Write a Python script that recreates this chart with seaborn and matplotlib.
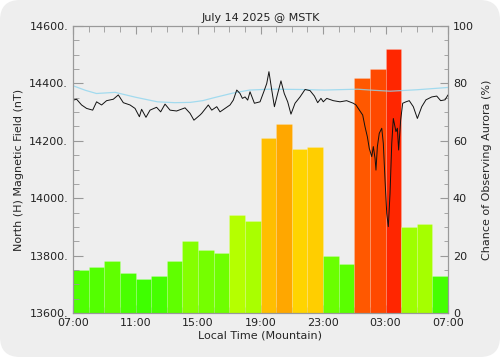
import numpy as np
import pandas as pd
import matplotlib
matplotlib.use("Agg")
import matplotlib.pyplot as plt
from matplotlib.patches import FancyBboxPatch
from matplotlib.colors import LinearSegmentedColormap
from matplotlib.ticker import MultipleLocator, FixedLocator, FuncFormatter
import seaborn as sns

# ---------------- data ----------------
title = "July 14 2025 @ MSTK"
tick_labels = ["07:00", "11:00", "15:00", "19:00", "23:00", "03:00", "07:00"]

# hourly aurora chance (%) starting 07:00 local
aurora_pct = [15, 16, 18, 14, 12, 13, 18, 25, 22, 21, 34, 32,
              61, 66, 57, 58, 20, 17, 82, 85, 92, 30, 31, 13]

# magnetometer H component (hours since 07:00, nT)
mag_t = [0.02, 0.23, 0.55, 0.87, 1.26, 1.51, 1.83, 2.15, 2.58, 2.90, 3.22, 3.65,
         3.97, 4.25, 4.39, 4.67, 4.93, 5.35, 5.61, 5.89, 6.21, 6.63, 7.17, 7.49,
         7.74, 8.13, 8.24, 8.66, 8.88, 9.20, 9.41, 9.73, 10.05, 10.26, 10.48, 10.69,
         10.84, 11.01, 11.18, 11.33, 11.61, 11.97, 12.25, 12.40, 12.54, 12.72, 12.89,
         13.10, 13.31, 13.52, 13.74, 13.95, 14.21, 14.53, 14.85, 15.17, 15.45, 15.66,
         15.87, 16.02, 16.24, 16.66, 17.09, 17.51, 17.94, 18.11, 18.33, 18.54, 18.69,
         18.84, 18.96, 19.12, 19.22, 19.33, 19.39, 19.48, 19.60, 19.76, 19.86, 19.97,
         20.08, 20.18, 20.29, 20.40, 20.50, 20.67, 20.76, 20.84, 20.97, 21.10, 21.31,
         21.52, 21.78, 22.04, 22.32, 22.59, 22.96, 23.28, 23.53, 23.81, 24.0]
mag_nt = [14342, 14345, 14325, 14313, 14307, 14336, 14325, 14340, 14345, 14360, 14333, 14325,
          14313, 14284, 14310, 14282, 14307, 14317, 14301, 14328, 14307, 14304, 14315, 14296,
          14272, 14290, 14296, 14325, 14307, 14319, 14301, 14313, 14325, 14342, 14377, 14365,
          14348, 14353, 14342, 14371, 14331, 14336, 14377, 14400, 14441, 14377, 14319,
          14365, 14409, 14365, 14336, 14293, 14331, 14353, 14379, 14375, 14356, 14333,
          14348, 14336, 14348, 14340, 14336, 14340, 14331, 14325, 14307, 14290, 14249,
          14214, 14174, 14145, 14180, 14139, 14098, 14180, 14226, 14244, 14191, 14063,
          13947, 13901, 14017, 14191, 14278, 14232, 14244, 14168, 14272, 14331, 14336,
          14340, 14319, 14278, 14319, 14343, 14353, 14356, 14340, 14343, 14360]

# quiet-day baseline (hours since 07:00, nT)
base_t = [0.0, 0.8, 1.5, 2.7, 4.0, 5.4, 6.5, 7.5, 8.3, 9.0, 10.2, 11.3, 12.6, 14.5, 16.1,
          18.2, 19.3, 20.3, 22.0, 24.0]
base_nt = [14392, 14376, 14365, 14369, 14352, 14336, 14333, 14334, 14340, 14350, 14366,
           14377, 14380, 14379, 14377, 14380, 14376, 14373, 14378, 14386]

# ---------------- figure ----------------
sns.set_style("ticks")
plt.rcParams["font.family"] = ["DejaVu Sans"]
plt.rcParams["font.size"] = 8

fig = plt.figure(figsize=(5.0, 3.57), dpi=100)
fig.patch.set_facecolor("white")
panel = FancyBboxPatch((0.0, 0.0), 5.0, 3.57,
                       boxstyle="round,pad=0,rounding_size=0.2",
                       transform=fig.dpi_scale_trans, facecolor="#eeeeee",
                       edgecolor="none", zorder=-10)
fig.patches.append(panel)

ax = fig.add_axes([0.146, 0.1232, 0.75, 0.8038])
ax.set_facecolor("none")
ax2 = ax.twinx()
ax2.set_facecolor("none")

cmap = LinearSegmentedColormap.from_list(
    "aur", [(0.0, "#00ff00"), (0.48, "#ffff00"), (1.0, "#ff0000")])
hours = np.arange(len(aurora_pct)) + 0.5
keys = [f"h{i}" for i in range(len(aurora_pct))]
pal = {k: cmap(v / 100.0) for k, v in zip(keys, aurora_pct)}
df = pd.DataFrame({"t": hours, "pct": aurora_pct, "key": keys})
sns.barplot(data=df, x="t", y="pct", hue="key", palette=pal, native_scale=True,
            width=1.0, dodge=False, saturation=1, legend=False, ax=ax,
            edgecolor=(1, 1, 1, 0.18), linewidth=0.6, zorder=1)

sns.lineplot(x=base_t, y=base_nt, ax=ax2, color="#8fd6ef", lw=0.9, alpha=0.8, sort=False)
sns.lineplot(x=mag_t, y=mag_nt, ax=ax2, color="#111111", lw=0.7, sort=False)

ax.set_xlim(0, 24)
ax.set_ylim(0, 100)
ax2.set_xlim(0, 24)
ax2.set_ylim(13600, 14600)

# right axis: aurora chance
ax.yaxis.tick_right()
ax.yaxis.set_label_position("right")
ax.yaxis.set_major_locator(MultipleLocator(20))
ax.yaxis.set_minor_locator(MultipleLocator(5))
ax.set_ylabel("Chance of Observing Aurora (%)", labelpad=6)
ax.tick_params(axis="y", which="major", direction="in", length=6,
               right=True, left=False, labelright=True, labelleft=False)
ax.tick_params(axis="y", which="minor", direction="in", length=3,
               right=True, left=False)

# x axis
ax.xaxis.set_major_locator(FixedLocator([0, 4, 8, 12, 16, 20, 24]))
ax.xaxis.set_minor_locator(MultipleLocator(1))
ax.set_xticklabels(tick_labels)
ax.set_xlabel("Local Time (Mountain)", labelpad=2)
ax.tick_params(axis="x", which="both", direction="in", top=True, bottom=True)
ax.tick_params(axis="x", which="major", length=6)
ax.tick_params(axis="x", which="minor", length=4)

# left axis: magnetic field
ax2.yaxis.tick_left()
ax2.yaxis.set_label_position("left")
ax2.yaxis.set_major_locator(MultipleLocator(200))
ax2.yaxis.set_minor_locator(MultipleLocator(50))
ax2.yaxis.set_major_formatter(FuncFormatter(lambda v, p: f"{v:.0f}."))
ax2.set_ylabel("North (H) Magnetic Field (nT)", labelpad=4)
ax2.tick_params(axis="y", which="major", direction="in", length=7,
                left=True, right=False, labelleft=True, labelright=False)
ax2.tick_params(axis="y", which="minor", direction="in", length=4,
                left=True, right=False)

for a in (ax, ax2):
    for s in a.spines.values():
        s.set_color("#999999")
        s.set_linewidth(0.8)
    a.tick_params(which="both", color="#999999", labelcolor="#222222", labelsize=8)

ax.set_title(title, fontsize=8, color="#222222", pad=4)

fig.savefig("out.png", dpi=100, facecolor=fig.get_facecolor())
